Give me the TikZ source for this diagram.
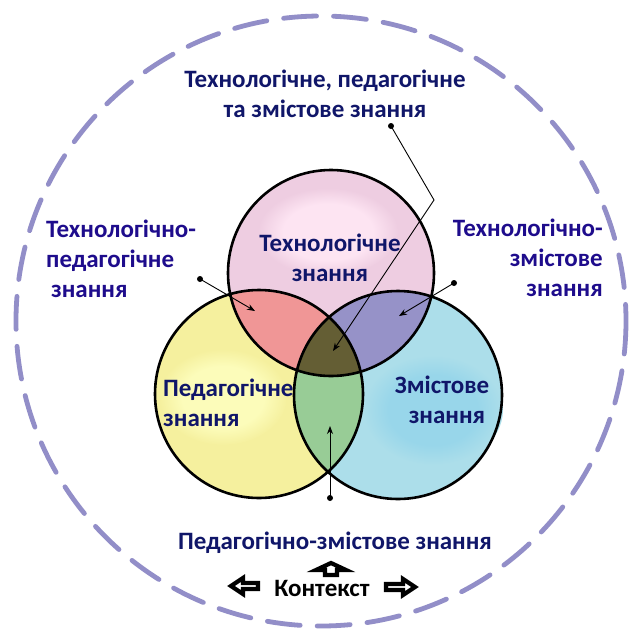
\documentclass[tikz,border=0pt]{standalone}
\usepackage{fontspec}
\setmainfont{Carlito}
\usetikzlibrary{arrows.meta}
\definecolor{navy}{RGB}{16,22,105}
\definecolor{sideblue}{RGB}{30,12,140}
\definecolor{ringc}{RGB}{146,142,200}
\definecolor{pinkb}{RGB}{238,205,225}
\definecolor{pinkh}{RGB}{253,228,242}
\definecolor{yellb}{RGB}{245,240,158}
\definecolor{yellh}{RGB}{252,252,186}
\definecolor{blueb}{RGB}{172,222,234}
\definecolor{blueh}{RGB}{152,214,234}
\definecolor{salmon}{RGB}{240,150,150}
\definecolor{lavender}{RGB}{150,146,200}
\definecolor{greenl}{RGB}{152,204,150}
\definecolor{olive}{RGB}{100,94,52}
\pgfdeclareradialshading{tophl}{\pgfpoint{0bp}{0bp}}{color(0bp)=(pinkh); color(16bp)=(pinkh); color(25bp)=(pinkb); color(50bp)=(pinkb)}
\pgfdeclareradialshading{lefthl}{\pgfpoint{0bp}{0bp}}{color(0bp)=(yellh); color(16bp)=(yellh); color(25bp)=(yellb); color(50bp)=(yellb)}
\pgfdeclareradialshading{righthl}{\pgfpoint{0bp}{0bp}}{color(0bp)=(blueh); color(16bp)=(blueh); color(25bp)=(blueb); color(50bp)=(blueb)}
\begin{document}
\begin{tikzpicture}[x=1pt,y=-1pt,
  lbl/.style={font=\bfseries\fontsize{25}{30}\selectfont, inner sep=0pt},
  outline/.style={draw=black, line width=2.6pt},
  dotnode/.style={circle, fill=black, inner sep=0pt, minimum size=6pt},
  conn/.style={draw=black, line width=0.9pt, -{Stealth[length=8pt,width=6pt]}},
  ctxarrow/.style={draw=black, fill=white, line width=4.2pt, line join=miter}]
\useasboundingbox (0,0) rectangle (630,633);
\fill[white] (0,0) rectangle (630,633);
\def\Tc{(331,273) circle[radius=103]}
\def\Lc{(259,394) circle[radius=104]}
\def\Rc{(398,395) circle[radius=104]}
% outer dashed context ring
\draw[ringc, line width=4.8pt, dash pattern=on 33pt off 17pt, line cap=round] (321,321) circle[radius=305];
% base fills
\fill[pinkb] \Tc;
\shade[shading=tophl] (328,232) ellipse[x radius=70, y radius=44];
\fill[yellb] \Lc;
\shade[shading=lefthl] (223,397) ellipse[x radius=64, y radius=48];
\fill[blueb] \Rc;
\shade[shading=righthl] (433,410) ellipse[x radius=70, y radius=55];
% pairwise intersections
\begin{scope}\clip \Tc; \fill[salmon] \Lc; \end{scope}
\begin{scope}\clip \Tc; \fill[lavender] \Rc; \end{scope}
\begin{scope}\clip \Lc; \fill[greenl] \Rc; \end{scope}
\begin{scope}\clip \Tc; \clip \Lc; \fill[olive] \Rc; \end{scope}
% outlines
\draw[outline] \Tc;
\draw[outline] \Lc;
\draw[outline] \Rc;
% context arrows
\draw[ctxarrow] (231,586) -- (243,578) -- (243,583) -- (258,583) -- (258,589) -- (243,589) -- (243,594) -- cycle;
\draw[ctxarrow] (415,587) -- (403,579) -- (403,584) -- (386,584) -- (386,590) -- (403,590) -- (403,595) -- cycle;
\draw[ctxarrow] (331,563) -- (346,570) -- (337,570) -- (337,575) -- (325,575) -- (325,570) -- (316,570) -- cycle;
% circle labels
\node[lbl, text=navy, align=center] (tk) at (330,258) {Технологічне\\знання};
\node[lbl, text=navy, align=left, anchor=west] (pk) at (163,403) {Педагогічне\\знання};
\node[lbl, text=navy, align=center] (ck) at (442,400) {Змістове\\\hspace{10pt}знання};
% outer labels
\node[lbl, text=navy, align=center] (tpck) at (325,94) {Технологічне, педагогічне\\та змістове знання};
\node[lbl, text=sideblue, align=left, anchor=west] (tpk) at (46,259) {Технологічно-\\педагогічне\\\hspace{5pt}знання};
\node[lbl, text=sideblue, align=right, anchor=east] (tck) at (603,258) {Технологічно-\\змістове\\знання};
\node[lbl, text=navy] (pck) at (335,543) {Педагогічно-змістове знання};
\node[lbl, text=black] (ctx) at (322,588) {Контекст};
% connectors
\node[dotnode] (d1) at (391,126) {};
\coordinate (b1) at (434,200);
\coordinate (t1) at (333,351);
\draw[conn] (d1.center) -- (b1) -- (t1);
\node[dotnode] (d2) at (200,279) {};
\coordinate (t2) at (255,311);
\draw[conn] (d2.center) -- (t2);
\node[dotnode] (d3) at (454,283) {};
\coordinate (t3) at (399,316);
\draw[conn] (d3.center) -- (t3);
\node[dotnode] (d4) at (330,498) {};
\coordinate (t4) at (330,426);
\draw[conn] (d4.center) -- (t4);
\end{tikzpicture}
\end{document}
